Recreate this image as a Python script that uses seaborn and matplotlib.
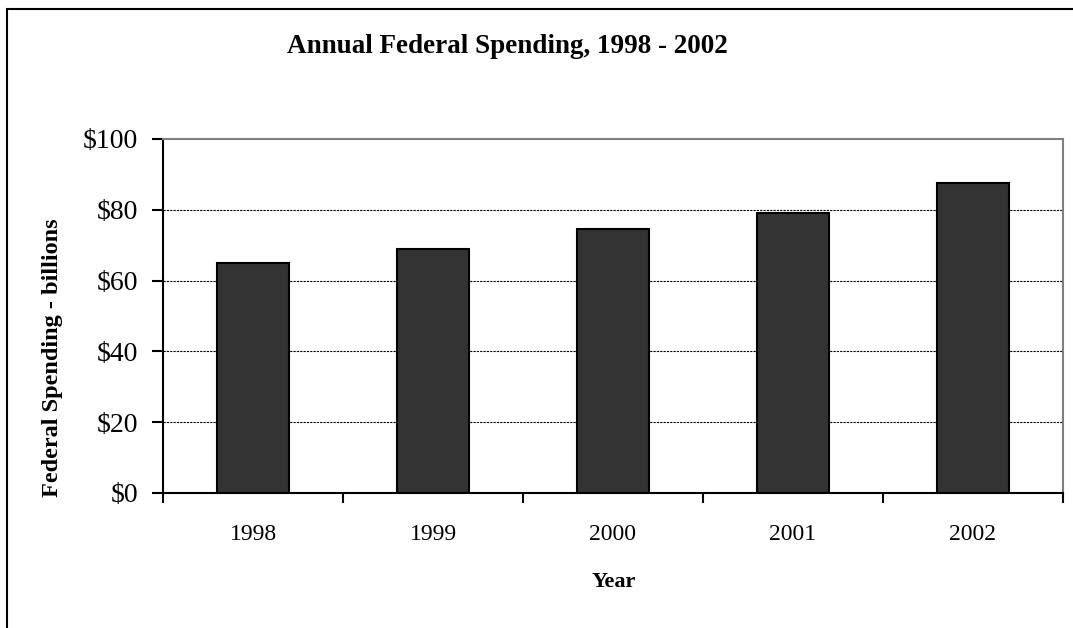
import matplotlib
matplotlib.use("Agg")
import matplotlib.pyplot as plt
from matplotlib.patches import Rectangle
from matplotlib.ticker import FixedLocator
import seaborn as sns
import pandas as pd

# Chart data
years = ["1998", "1999", "2000", "2001", "2002"]
spending = [65, 69, 74.5, 79, 87.5]
y_ticks = [0, 20, 40, 60, 80, 100]
y_tick_labels = ["$0", "$20", "$40", "$60", "$80", "$100"]

sns.set_theme(style="white")
plt.rcParams["font.family"] = ["Liberation Serif", "DejaVu Serif"]
plt.rcParams.update({"text.color": "black", "axes.labelcolor": "black",
                     "xtick.color": "black", "ytick.color": "black"})

df = pd.DataFrame({"year": years, "spending": spending})

W, H = 1073, 628
fig = plt.figure(figsize=(W / 100, H / 100), dpi=100)
ax = fig.add_axes([163 / W, 1 - 493 / H, 900 / W, 354 / H])

sns.barplot(data=df, x="year", y="spending", color="#333333",
            edgecolor="black", linewidth=1.5, width=0.4, saturation=1, ax=ax)

ax.set_xlim(-0.5, len(years) - 0.5)
ax.set_ylim(0, 100)
ax.set_yticks(y_ticks)
ax.set_yticklabels(y_tick_labels, fontsize=20)

# gridlines at inner ticks only
for v in y_ticks[1:-1]:
    ax.axhline(v, color="black", linewidth=0.8, linestyle=(0, (2, 1)), zorder=0)

# category boundary ticks
ax.xaxis.set_minor_locator(FixedLocator([i - 0.5 for i in range(len(years) + 1)]))
ax.tick_params(axis="x", which="major", length=0, labelsize=17, pad=22.5)
ax.tick_params(axis="x", which="minor", direction="out", length=7, width=1.5,
               color="black", bottom=True)
ax.tick_params(axis="y", direction="out", length=8, width=1.5, color="black",
               left=True, pad=10)

for side in ["left", "bottom"]:
    ax.spines[side].set_color("black")
    ax.spines[side].set_linewidth(1.5)
for side in ["top", "right"]:
    ax.spines[side].set_color("#808080")
    ax.spines[side].set_linewidth(1.5)

ax.set_xlabel("")
ax.set_ylabel("")
fig.text(614 / W, 1 - 587 / H, "Year", ha="center", va="baseline",
         fontsize=16, fontweight="bold")
fig.text(53 / W, 1 - 358 / H, "Federal Spending - billions", ha="center",
         va="center", rotation=90, fontsize=17.5, fontweight="bold")

fig.text(507 / W, 1 - 53 / H, "Annual Federal Spending, 1998 - 2002",
         ha="center", va="baseline", fontsize=19.5, fontweight="bold")

# outer chart border
fig.patches.append(Rectangle((7 / W, -0.1), 1.2, 1 - 9 / H + 0.1,
                             transform=fig.transFigure, fill=False,
                             edgecolor="black", linewidth=1.5))

fig.savefig("out.png", dpi=100)
